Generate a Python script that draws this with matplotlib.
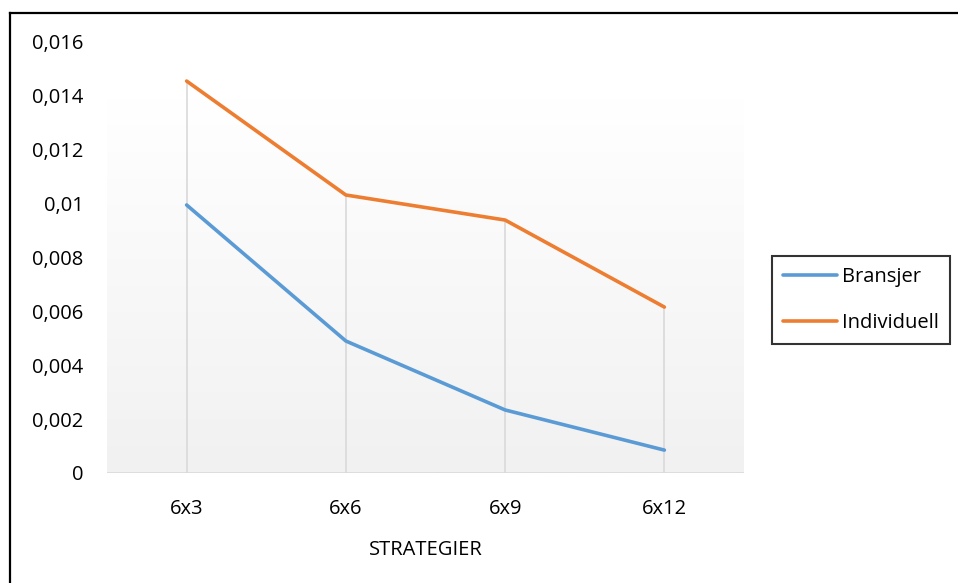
import numpy as np
import matplotlib
matplotlib.use("Agg")
import matplotlib.pyplot as plt
from matplotlib.colors import LinearSegmentedColormap
from matplotlib.lines import Line2D

categories = ["6x3", "6x6", "6x9", "6x12"]
bransjer = [0.00995, 0.0049, 0.00234, 0.00085]
individuell = [0.01455, 0.01032, 0.00939, 0.00616]
y_ticks = [0, 0.002, 0.004, 0.006, 0.008, 0.01, 0.012, 0.014, 0.016]
y_tick_labels = ["0", "0,002", "0,004", "0,006", "0,008", "0,01", "0,012", "0,014", "0,016"]

plt.rcParams["font.family"] = ["Open Sans", "DejaVu Sans"]
FS = 14.5

W, H = 958, 583
fig = plt.figure(figsize=(W / 100, H / 100), dpi=100)
ax = fig.add_axes([107 / W, (H - 473) / H, (744 - 107) / W, (473 - 42) / H])

x = np.arange(len(categories))
ax.set_xlim(-0.5, len(categories) - 0.5)
ax.set_ylim(0, 0.016)

# plot-area gradient fill (white at top to light grey at bottom)
grad = np.linspace(0, 1, 256).reshape(-1, 1)
cmap = LinearSegmentedColormap.from_list("bg", ["#f1f1f1", "#ffffff"])
ax.imshow(grad, extent=[-0.5, len(categories) - 0.5, 0, 0.0139], origin="lower",
          aspect="auto", cmap=cmap, zorder=0, interpolation="bilinear")

# drop lines from the upper series down to the axis
tops = np.maximum(bransjer, individuell)
ax.vlines(x, 0, tops, color="#d9d9d9", lw=1.2, zorder=1)
ax.axhline(0, color="#d9d9d9", lw=1.2, zorder=1)

blue = "#5b9bd5"
orange = "#ed7d31"
ax.plot(x, bransjer, color=blue, lw=2.6, solid_capstyle="round", solid_joinstyle="round", zorder=3)
ax.plot(x, individuell, color=orange, lw=2.6, solid_capstyle="round", solid_joinstyle="round", zorder=3)

for s in ax.spines.values():
    s.set_visible(False)
ax.set_xticks(x)
ax.set_xticklabels(categories, fontsize=FS)
ax.set_yticks(y_ticks)
ax.set_yticklabels(y_tick_labels, fontsize=FS)
ax.tick_params(length=0)
ax.tick_params(axis="y", pad=17)
ax.tick_params(axis="x", pad=19)
ax.set_xlabel("STRATEGIER", fontsize=FS, labelpad=15)

handles = [Line2D([0], [0], color=blue, lw=2.6, solid_capstyle="round"),
           Line2D([0], [0], color=orange, lw=2.6, solid_capstyle="round")]
leg = fig.legend(handles, ["Bransjer", "Individuell"], loc="center left",
                 bbox_to_anchor=(772 / W, 1 - 300 / H), fontsize=FS,
                 frameon=True, fancybox=False, handlelength=2.7, handletextpad=0.25,
                 borderpad=0.55, labelspacing=1.3, borderaxespad=0)
leg.get_frame().set_edgecolor("black")
leg.get_frame().set_linewidth(1.5)

# outer chart border (left and top edges)
fig.add_artist(Line2D([10 / W, 10 / W], [0, 1 - 13 / H], color="black", lw=1.6, transform=fig.transFigure))
fig.add_artist(Line2D([10 / W, 1], [1 - 13 / H, 1 - 13 / H], color="black", lw=1.6, transform=fig.transFigure))

fig.savefig("out.png", dpi=100)
